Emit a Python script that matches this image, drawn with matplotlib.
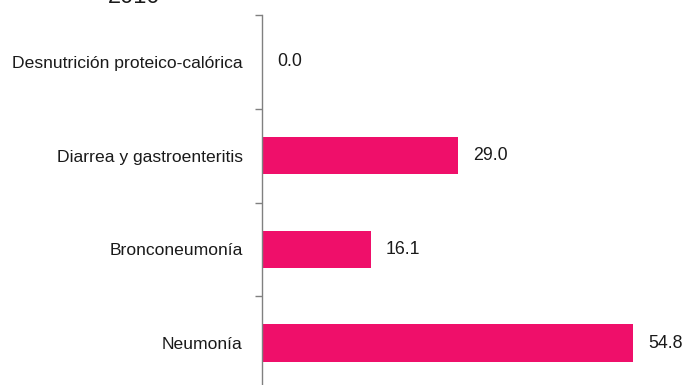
import matplotlib
matplotlib.use("Agg")
import matplotlib.pyplot as plt
import numpy as np

# datos (causas de muerte, tasa)
causas = ["Desnutrición proteico-calórica", "Diarrea y gastroenteritis",
          "Bronconeumonía", "Neumonía"]
tasas = [0.0, 29.0, 16.1, 54.8]
titulo = "2010"

plt.rcParams['font.family'] = ['Liberation Sans', 'DejaVu Sans']

fig = plt.figure(figsize=(6.84, 3.85), dpi=100)
ax = fig.add_axes([262 / 684, -5 / 385, 422 / 684, 375 / 385])

y = np.arange(len(causas))
ax.barh(y, tasas, height=0.4, color='#EF0F6A')

for yi, v in zip(y, tasas):
    ax.text(v + 2.2, yi, f"{v:.1f}", va='center', ha='left',
            fontsize=12.8, color='#1a1a1a')

ax.set_ylim(len(causas) - 0.5, -0.5)
ax.set_xlim(0, 62.3)

ax.set_yticks(y)
ax.set_yticklabels(causas, fontsize=12.6, color='#1a1a1a')
ax.tick_params(axis='y', which='major', length=0, pad=14)
ax.set_yticks(np.arange(len(causas) + 1) - 0.5, minor=True)
ax.tick_params(axis='y', which='minor', length=5, width=1, color='#808080')

ax.set_xticks([])
for s in ['top', 'right', 'bottom']:
    ax.spines[s].set_visible(False)
ax.spines['left'].set_color('#808080')
ax.spines['left'].set_linewidth(1)

# el titulo queda cortado arriba como en la imagen original
fig.text(134 / 684, 1 - 3 / 385, titulo, ha='center', va='baseline',
         fontsize=17, color='#1a1a1a')

fig.savefig("out.png", dpi=100)
